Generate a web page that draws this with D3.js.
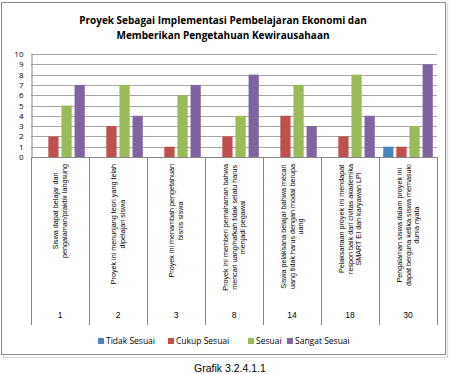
<!DOCTYPE html>
<html>
<head>
<meta charset="utf-8">
<script src="https://cdn.jsdelivr.net/npm/d3@7"></script>
<style>
  body { margin: 0; background: #fff; }
  svg { display: block; }
</style>
</head>
<body>
<svg id="chart"></svg>
<script>
// ---------- data ----------
var categories = ["1", "2", "3", "8", "14", "18", "30"];
var itemLabels = [
  ["Siswa dapat belajar dari", "pengalaman/praktik langsung"],
  ["Proyek ini menunjang teori yang telah", "dipelajari siswa"],
  ["Proyek ini menambah pengetahuan", "bisnis siswa"],
  ["Proyek ini memberi pemahaman bahwa", "mencari uang/nafkah tidak selalu harus", "menjadi pegawai"],
  ["Siswa pelaksana belajar bahwa mecari", "uang tidak harus dengan modal berupa", "uang"],
  ["Pelaksanaan proyek ini mendapat", "respon baik dari civitas akademika", "SMART EI dan karyawan LPI"],
  ["Pengalaman siswa dalam proyek ini", "dapat berguna ketika siswa memasuki", "dunia nyata"]
];
var seriesNames = ["Tidak Sesuai", "Cukup Sesuai", "Sesuai", "Sangat Sesuai"];
var tidakSesuai = [0, 0, 0, 0, 0, 0, 1];
var cukupSesuai = [2, 3, 1, 2, 4, 2, 1];
var sesuai = [5, 7, 6, 4, 7, 8, 3];
var sangatSesuai = [7, 4, 7, 8, 3, 4, 9];
var yTicks = [0, 1, 2, 3, 4, 5, 6, 7, 8, 9, 10];
var titleLines = ["Proyek Sebagai Implementasi Pembelajaran Ekonomi dan", "Memberikan Pengetahuan Kewirausahaan"];
var caption = "Grafik 3.2.4.1.1";

var seriesValues = [tidakSesuai, cukupSesuai, sesuai, sangatSesuai];
var colors = ["#4F81BD", "#C0504D", "#9BBB59", "#8064A2"];

//----------setup-------------
var screen = {width: 450, height: 374};
var plot = {left: 31, right: 437, top: 54, bottom: 157};
var svg = d3.select("#chart")
  .attr("width", screen.width)
  .attr("height", screen.height);

svg.append("rect")
  .attr("x", 0).attr("y", 0)
  .attr("width", screen.width).attr("height", screen.height)
  .attr("fill", "#fff");

// chart frame with soft shadow
svg.append("rect")
  .attr("x", 3.5).attr("y", 4.5)
  .attr("width", 444).attr("height", 353)
  .attr("fill", "none").attr("stroke", "#d9d9d9").attr("stroke-width", 1.5);
svg.append("rect")
  .attr("x", 1.5).attr("y", 2.5)
  .attr("width", 444).attr("height", 352)
  .attr("fill", "#fff").attr("stroke", "#8c8c8c").attr("stroke-width", 1);

// title
svg.append("g").selectAll("text")
  .data(titleLines)
  .enter()
  .append("text")
  .attr("x", 223)
  .attr("y", function (d, i) { return 23.5 + i * 15; })
  .attr("text-anchor", "middle")
  .attr("font-family", "'Open Sans', sans-serif")
  .attr("font-weight", "bold")
  .attr("font-size", "10px")
  .attr("fill", "#000")
  .text(function (d) { return d; });

//---------scales---------
var xScale = d3.scaleBand()
  .domain(categories)
  .range([plot.left, plot.right]);
var xInner = d3.scaleBand()
  .domain(d3.range(seriesNames.length))
  .range([0, xScale.bandwidth()])
  .paddingInner(0.22)
  .paddingOuter(0.32);
var yScale = d3.scaleLinear()
  .domain([0, 10])
  .range([plot.bottom, plot.top]);

// gridlines
svg.append("g").selectAll("line")
  .data(yTicks.filter(function (t) { return t > 0; }))
  .enter()
  .append("line")
  .attr("x1", plot.left).attr("x2", plot.right)
  .attr("y1", function (t) { return Math.round(yScale(t)) + 0.5; })
  .attr("y2", function (t) { return Math.round(yScale(t)) + 0.5; })
  .attr("stroke", "#a6a6a6").attr("stroke-width", 1);

// y axis
var yAxis = d3.axisLeft(yScale).tickValues(yTicks).tickSize(0).tickPadding(8);
var yg = svg.append("g")
  .attr("transform", "translate(" + (plot.left + 0.5) + ",0)")
  .call(yAxis);
yg.select(".domain").attr("stroke", "#868686");
yg.selectAll("text")
  .attr("font-family", "'Open Sans', sans-serif")
  .attr("font-size", "8px")
  .attr("fill", "#000");

// bars
var groups = svg.append("g").selectAll("g")
  .data(seriesValues)
  .enter()
  .append("g")
  .attr("fill", function (d, i) { return colors[i]; });
groups.each(function (vals, si) {
  d3.select(this).selectAll("rect")
    .data(vals)
    .enter()
    .append("rect")
    .attr("x", function (v, ci) { return xScale(categories[ci]) + xInner(si); })
    .attr("width", xInner.bandwidth())
    .attr("y", function (v) { return yScale(v); })
    .attr("height", function (v) { return yScale(0) - yScale(v); });
});

// category axis (two levels)
var axisBottom = 325;
svg.append("line")
  .attr("x1", plot.left).attr("x2", plot.right)
  .attr("y1", plot.bottom + 0.5).attr("y2", plot.bottom + 0.5)
  .attr("stroke", "#868686");
var bounds = categories.map(function (c) { return xScale(c); }).concat([plot.right]);
svg.append("g").selectAll("line")
  .data(bounds)
  .enter()
  .append("line")
  .attr("x1", function (x) { return Math.round(x) + 0.5; })
  .attr("x2", function (x) { return Math.round(x) + 0.5; })
  .attr("y1", plot.bottom)
  .attr("y2", axisBottom)
  .attr("stroke", "#868686");

// rotated item labels
var labelFont = "'Liberation Sans', Arial, sans-serif";
var labelSize = 7.2;
var lineGap = 8.4;
var labelG = svg.append("g");
itemLabels.forEach(function (lines, ci) {
  var cx = xScale(categories[ci]) + xScale.bandwidth() / 2;
  var g = labelG.append("g");
  var t = g.append("text")
    .attr("font-family", labelFont)
    .attr("font-size", labelSize + "px")
    .attr("fill", "#000")
    .attr("text-anchor", "middle");
  var n = lines.length;
  t.selectAll("tspan")
    .data(lines)
    .enter()
    .append("tspan")
    .attr("x", 0)
    .attr("y", function (d, i) { return (i - (n - 1) / 2) * lineGap + labelSize * 0.35; })
    .text(function (d) { return d; });
  var maxLen = t.node().getBBox().width;
  g.attr("transform", "translate(" + cx + "," + (plot.bottom + 7 + maxLen / 2) + ") rotate(-90)");
});

// number labels
svg.append("g").selectAll("text")
  .data(categories)
  .enter()
  .append("text")
  .attr("x", function (c) { return xScale(c) + xScale.bandwidth() / 2; })
  .attr("y", 318)
  .attr("text-anchor", "middle")
  .attr("font-family", labelFont)
  .attr("font-size", "8.5px")
  .attr("fill", "#000")
  .text(function (c) { return c; });

// legend
var legendX = [98, 168, 248, 287];
var legend = svg.append("g").selectAll("g")
  .data(seriesNames)
  .enter()
  .append("g")
  .attr("transform", function (d, i) { return "translate(" + legendX[i] + ",341)"; });
legend.append("rect")
  .attr("x", 0).attr("y", -3)
  .attr("width", 6).attr("height", 6)
  .attr("fill", function (d, i) { return colors[i]; });
legend.append("text")
  .attr("x", 8).attr("y", 3)
  .attr("font-family", "'Open Sans', sans-serif")
  .attr("font-size", "8.5px")
  .attr("fill", "#000")
  .text(function (d) { return d; });

// caption
svg.append("text")
  .attr("x", 230).attr("y", 372)
  .attr("text-anchor", "middle")
  .attr("font-family", labelFont)
  .attr("font-size", "10.5px")
  .attr("fill", "#000")
  .text(caption);
</script>
</body>
</html>
